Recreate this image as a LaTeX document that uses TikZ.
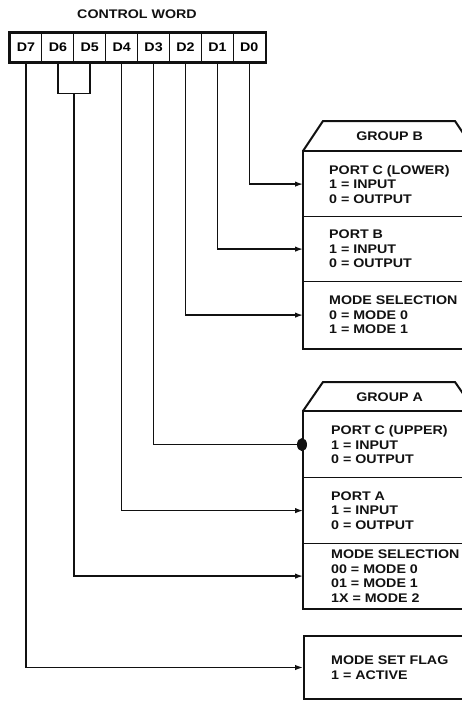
\documentclass[tikz,border=0pt]{standalone}
\usepackage{fontspec}
\setmainfont{Liberation Sans}[FakeStretch=1.14]
\usetikzlibrary{arrows.meta,positioning,calc}
\definecolor{inkCol}{HTML}{111111}
\newcommand{\wordfont}{\fontsize{12.5}{14.5}\selectfont\bfseries}
\tikzstyle{cell}=[draw=inkCol, line width=1pt, minimum width=31.9pt, minimum height=29pt, inner sep=0pt, font=\wordfont]
\tikzstyle{section}=[draw=inkCol, line width=1.2pt, minimum width=172pt, anchor=north west, inner sep=0pt]
\tikzstyle{sectext}=[align=left, anchor=west, inner sep=0pt, font=\wordfont, text=inkCol]
\tikzstyle{outline}=[line width=2pt, draw=inkCol, line join=miter]
\tikzstyle{connection}=[line width=1.4pt, draw=inkCol, -{Latex[length=8pt,width=5.5pt]}]
\tikzstyle{blob}=[line width=1.4pt, draw=inkCol, -{Circle[length=10pt,width=13pt]}]

\begin{document}
\begin{tikzpicture}[x=1pt, y=-1pt]
    \useasboundingbox (0,0) rectangle (462,704);
    \clip (0,0) rectangle (462,704);

    % ==== CONTROL WORD ====
    \node[font=\wordfont, text=inkCol] (title) at (137,14) {CONTROL WORD};
    \foreach \b [count=\i from 0] in {7,...,0}
        \node[cell] (d\b) at ({26+31.9*\i},47.5) {D\b};
    \draw[line width=2.2pt, draw=inkCol] (d7.north west) rectangle (d0.south east);

    % === GROUP B ===
    \node[section, minimum height=65pt] (pcl) at (303,151) {};
    \node[sectext, right=26pt of pcl.west] (pcl-text) {PORT C (LOWER)\\1 = INPUT\\0 = OUTPUT};
    \node[section, minimum height=65pt] (pb) at (303,216) {};
    \node[sectext, right=26pt of pb.west] (pb-text) {PORT B\\1 = INPUT\\0 = OUTPUT};
    \node[section, minimum height=67pt] (msb) at (303,281) {};
    \node[sectext, right=26pt of msb.west] (msb-text) {MODE SELECTION\\0 = MODE 0\\1 = MODE 1};
    \draw[outline] (pcl.north west) rectangle (msb.south east);
    \draw[outline] (pcl.north west) -- ++(20,-30) -- ++(132,0) -- ++(20,30);
    \node[font=\wordfont, text=inkCol] (grpb) at ($(pcl.north)+(0,-15)$) {GROUP B};

    % === GROUP A ===
    \node[section, minimum height=66pt] (pcu) at (303,411) {};
    \node[sectext, right=28pt of pcu.west] (pcu-text) {PORT C (UPPER)\\1 = INPUT\\0 = OUTPUT};
    \node[section, minimum height=66pt] (pa) at (303,477) {};
    \node[sectext, right=28pt of pa.west] (pa-text) {PORT A\\1 = INPUT\\0 = OUTPUT};
    \node[section, minimum height=65pt] (msa) at (303,543) {};
    \node[sectext, right=28pt of msa.west] (msa-text) {MODE SELECTION\\00 = MODE 0\\01 = MODE 1\\1X = MODE 2};
    \draw[outline] (pcu.north west) rectangle (msa.south east);
    \draw[outline] (pcu.north west) -- ++(20,-29) -- ++(132,0) -- ++(20,29);
    \node[font=\wordfont, text=inkCol] (grpa) at ($(pcu.north)+(0,-14)$) {GROUP A};

    % === MODE SET FLAG ===
    \node[section, minimum height=63pt, line width=2pt] (flag) at (303,635) {};
    \node[sectext, right=28pt of flag.west] (flag-text) {MODE SET FLAG\\1 = ACTIVE};

    % ==== CONNECTIONS ====
    \draw[connection] (d0.south) |- (pcl.west);
    \draw[connection] (d1.south) |- (pb.west);
    \draw[connection] (d2.south) |- (msb.west);
    \draw[blob] (d3.south) |- ([xshift=4pt]pcu.west);
    \draw[connection] (d4.south) |- (pa.west);

    % D6 and D5 joined
    \coordinate (d65) at ($(d6.south)!0.5!(d5.south)+(0,31)$);
    \draw[line width=1.4pt, draw=inkCol] (d6.south) |- (d65) -| (d5.south);
    \draw[connection] (d65) |- (msa.west);

    \draw[connection] (d7.south) |- (flag.west);

\end{tikzpicture}
\end{document}
